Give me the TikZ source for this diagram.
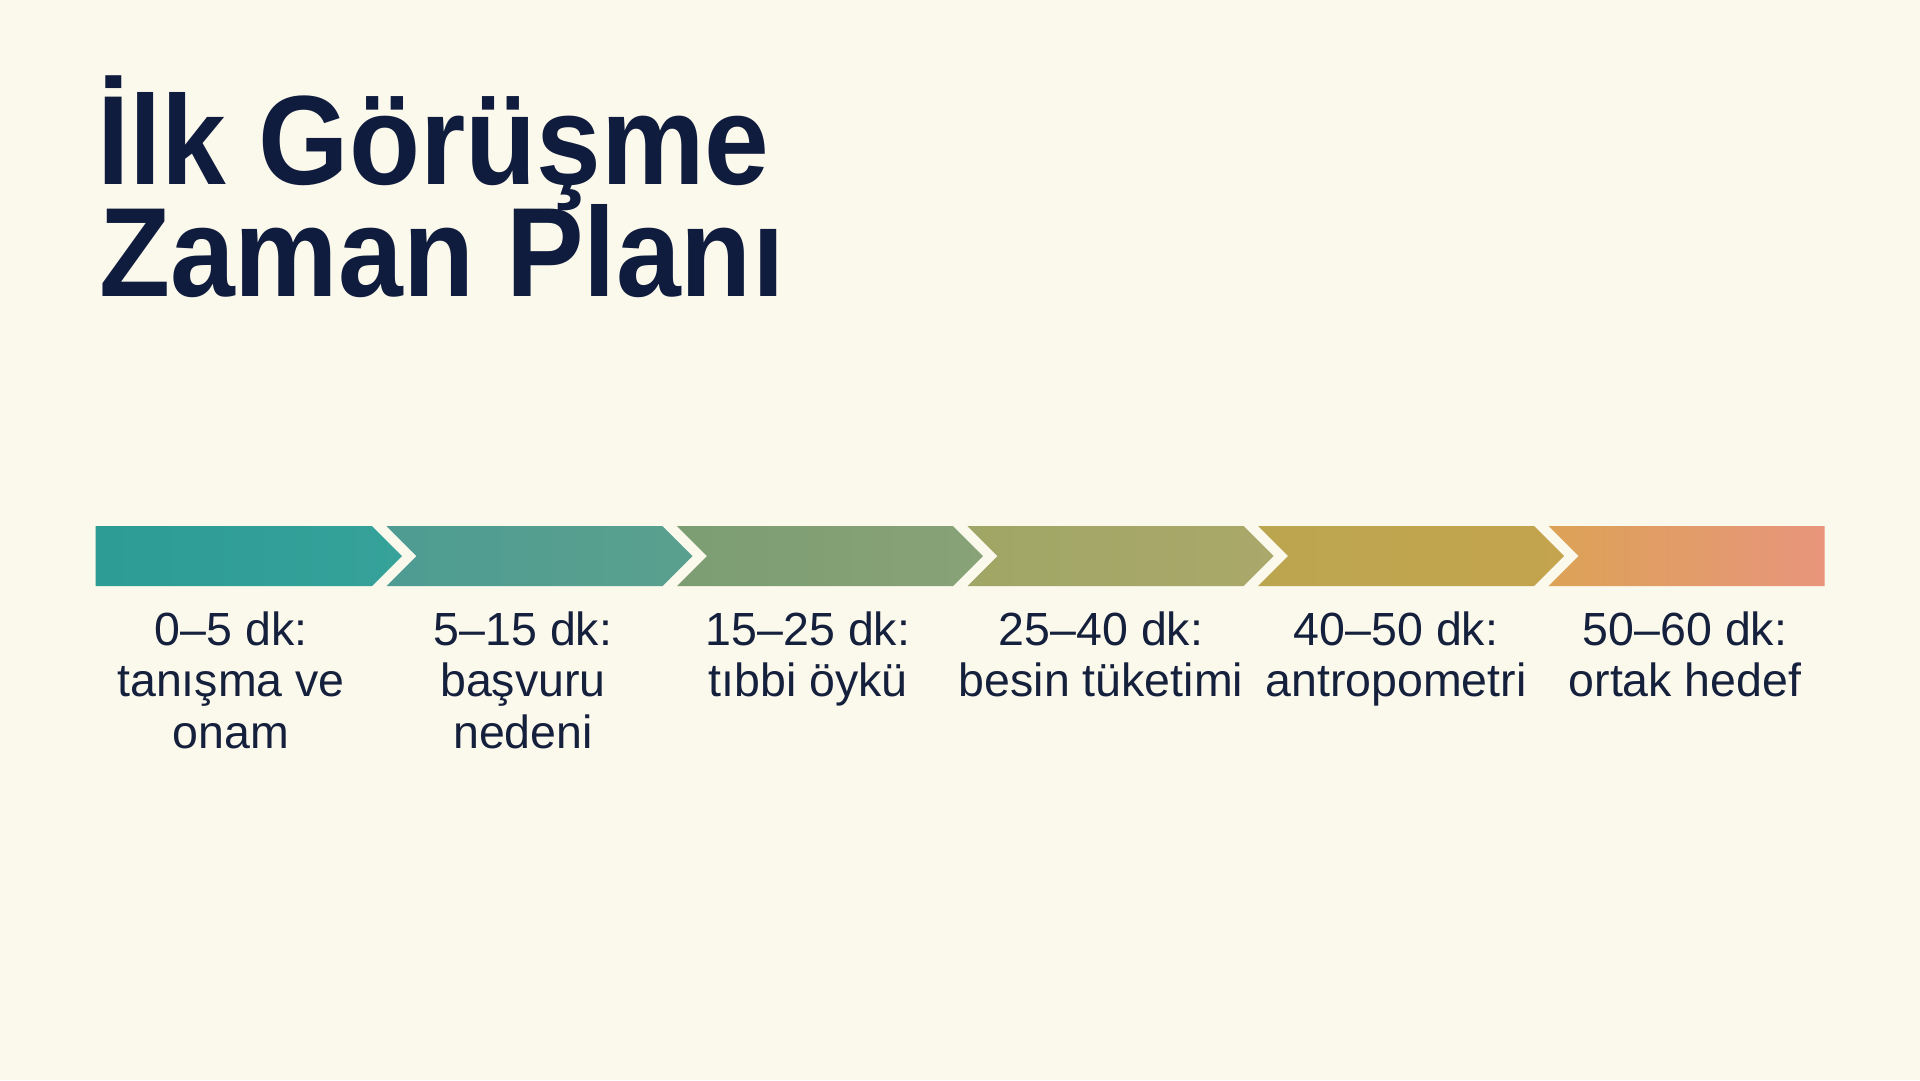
\documentclass[tikz,border=0pt]{standalone}
\usepackage{fontspec}
\setmainfont{Liberation Sans}
\definecolor{bgc}{HTML}{FBF8EC}
\definecolor{navy}{HTML}{0F1C3D}
\definecolor{labc}{HTML}{15203C}
\definecolor{sA1}{HTML}{2C9C95}\definecolor{sA2}{HTML}{36A29A}
\definecolor{sB1}{HTML}{4E9C92}\definecolor{sB2}{HTML}{5AA08E}
\definecolor{sC1}{HTML}{7C9D72}\definecolor{sC2}{HTML}{89A277}
\definecolor{sD1}{HTML}{A0A665}\definecolor{sD2}{HTML}{AAA86A}
\definecolor{sE1}{HTML}{BCA54F}\definecolor{sE2}{HTML}{C4A44E}
\definecolor{sF1}{HTML}{DCA256}\definecolor{sF2}{HTML}{E8957C}
\tikzset{
  titletext/.style={anchor=base west, inner sep=0pt, text=navy,
    font=\fontsize{127}{111}\selectfont\bfseries, xscale=0.916, transform shape},
  labeltext/.style={anchor=base, inner sep=0pt, text=labc, align=center,
    font=\fontsize{46.5}{51.5}\selectfont},
  seg/.style={draw=none}
}
\begin{document}
\begin{tikzpicture}[x=1pt,y=-1pt]
\useasboundingbox (0,0) rectangle (1920,1080);
\fill[bgc] (0,0) rectangle (1920,1080);
% title
\node[titletext] (t1) at (97,184) {İlk Görüşme};
\node[titletext] (t2) at (99,296) {Zaman Planı};
% segments
\def\ytop{526}\def\ybot{586}\def\ymid{556}
\path[seg, left color=sA1, right color=sA2]
  (95.5,\ytop) -- (372,\ytop) -- (402,\ymid) -- (372,\ybot) -- (95.5,\ybot) -- cycle;
\path[seg, left color=sB1, right color=sB2]
  (386.5,\ytop) -- (662.5,\ytop) -- (692.5,\ymid) -- (662.5,\ybot) -- (386.5,\ybot) -- (416.5,\ymid) -- cycle;
\path[seg, left color=sC1, right color=sC2]
  (677,\ytop) -- (953,\ytop) -- (983,\ymid) -- (953,\ybot) -- (677,\ybot) -- (707,\ymid) -- cycle;
\path[seg, left color=sD1, right color=sD2]
  (967.5,\ytop) -- (1243.5,\ytop) -- (1273.5,\ymid) -- (1243.5,\ybot) -- (967.5,\ybot) -- (997.5,\ymid) -- cycle;
\path[seg, left color=sE1, right color=sE2]
  (1258,\ytop) -- (1534,\ytop) -- (1564,\ymid) -- (1534,\ybot) -- (1258,\ybot) -- (1288,\ymid) -- cycle;
\path[seg, left color=sF1, right color=sF2]
  (1548.5,\ytop) -- (1824.5,\ytop) -- (1824.5,\ybot) -- (1548.5,\ybot) -- (1578.5,\ymid) -- cycle;
% labels (anchor = baseline of last line)
\node[labeltext] (l1) at (231,748) {0–5 dk:\\tanışma ve\\onam};
\node[labeltext] (l2) at (523,748) {5–15 dk:\\başvuru\\nedeni};
\node[labeltext] (l3) at (808,696.5) {15–25 dk:\\tıbbi öykü};
\node[labeltext] (l4) at (1101,696.5) {25–40 dk:\\besin tüketimi};
\node[labeltext] (l5) at (1396,696.5) {40–50 dk:\\antropometri};
\node[labeltext] (l6) at (1685,696.5) {50–60 dk:\\ortak hedef};
\end{tikzpicture}
\end{document}
